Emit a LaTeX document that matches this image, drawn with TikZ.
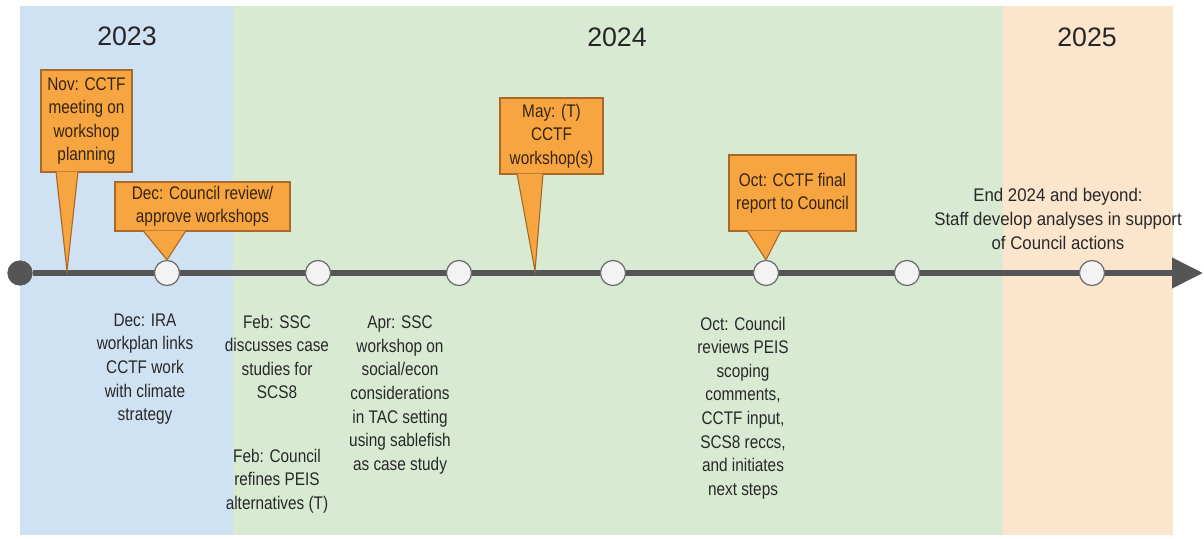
\documentclass[tikz,border=0pt]{standalone}
\usepackage{fontspec}
\setmainfont{Liberation Sans}
\newfontfamily\narrowsans[FakeStretch=0.84]{Liberation Sans}
\newfontfamily\widesans[FakeStretch=0.92]{Liberation Sans}
\usetikzlibrary{arrows.meta,calc}

\definecolor{yrblue}{HTML}{CFE2F3}
\definecolor{yrgreen}{HTML}{D9EAD3}
\definecolor{yrpeach}{HTML}{FCE5CD}
\definecolor{callfill}{HTML}{F7A541}
\definecolor{calledge}{HTML}{A8692A}
\definecolor{calltext}{HTML}{35240F}
\definecolor{notetext}{HTML}{282828}
\definecolor{linegray}{HTML}{555555}
\definecolor{dotfill}{HTML}{F3F3F3}
\definecolor{dotedge}{HTML}{6F6F6F}

\tikzset{
  year/.style={font=\fontsize{19}{22}\selectfont, text=black!85},
  note/.style={align=center, inner sep=0pt, text=notetext, font=\narrowsans\fontsize{13}{16.8}\selectfont},
  callbox/.style={draw=calledge, fill=callfill, line width=0.8pt, inner sep=0pt, align=center, text=calltext, font=\narrowsans\fontsize{13}{16.6}\selectfont},
  pointer/.style={draw=calledge, fill=callfill, line width=0.8pt},
  event/.style={draw=dotedge, fill=dotfill, circle, line width=0.9pt, minimum size=17.8pt, inner sep=0pt},
  startdot/.style={draw=linegray, fill=linegray, circle, minimum size=17.5pt, inner sep=0pt},
  timeline/.style={draw=linegray, line width=3.8pt, -{Triangle[length=22pt,width=21pt]}}
}

\begin{document}
\begin{tikzpicture}[x=0.025cm, y=-0.025cm]
    \useasboundingbox (0, 0) rectangle (1204, 539);

    % year bands
    \fill [yrblue] (20, 6) rectangle (233, 535);
    \fill [yrgreen] (233, 6) rectangle (1003, 535);
    \fill [yrpeach] (1003, 6) rectangle (1173, 535);
    \node [year] (y23) at (127, 36) {2023};
    \node [year] (y24) at (617, 37) {2024};
    \node [year] (y25) at (1087, 37) {2025};

    % timeline
    \node [startdot] (start) at (20, 273) {};
    \coordinate (end) at (1203, 273);
    \draw [timeline] (start) -- (end);
    \node [event] (e1) at (167, 273) {};
    \node [event] (e2) at (318, 273) {};
    \node [event] (e3) at (459, 273) {};
    \node [event] (e4) at (613, 273) {};
    \node [event] (e5) at (766, 273) {};
    \node [event] (e6) at (907, 273) {};
    \node [event] (e7) at (1092, 273) {};
    \coordinate (novtip) at (67, 271);
    \coordinate (maytip) at (535, 271);

    % callouts
    \node [callbox, minimum width=2.275cm, minimum height=2.55cm] (nov) at (86.5, 121)
        {Nov: CCTF\\meeting on\\workshop\\planning};
    \filldraw [pointer] ($(56,0 |- nov.south)+(0,-1)$) -- (novtip) -- ($(78,0 |- nov.south)+(0,-1)$);
    \node [callbox, minimum width=4.375cm, minimum height=1.225cm] (dec) at (202.5, 206.5)
        {Dec: Council review/\\approve workshops};
    \filldraw [pointer] ($(143,0 |- dec.south)+(0,-1)$) -- (e1.north) -- ($(186,0 |- dec.south)+(0,-1)$);
    \node [callbox, minimum width=2.575cm, minimum height=1.9cm] (may) at (551.5, 136)
        {May: (T)\\CCTF\\workshop(s)};
    \filldraw [pointer] ($(517,0 |- may.south)+(0,-1)$) -- (maytip) -- ($(543,0 |- may.south)+(0,-1)$);
    \node [callbox, minimum width=3.175cm, minimum height=1.9cm] (oct) at (792.5, 193)
        {Oct: CCTF final\\report to Council};
    \filldraw [pointer] ($(747,0 |- oct.south)+(0,-1)$) -- (e5.north) -- ($(781,0 |- oct.south)+(0,-1)$);

    % notes below and above the line
    \node [note] (decira) at (145, 369) {Dec: IRA\\workplan links\\CCTF work\\with climate\\strategy};
    \node [note] (febssc) at (277, 357) {Feb: SSC\\discusses case\\studies for\\SCS8};
    \node [note] (febcouncil) at (277, 481) {Feb: Council\\refines PEIS\\alternatives (T)};
    \node [note] (aprssc) at (400, 395) {Apr: SSC\\workshop on\\social/econ\\considerations\\in TAC setting\\using sablefish\\as case study};
    \node [note] (octcouncil) at (743, 408) {Oct: Council\\reviews PEIS\\scoping\\comments,\\CCTF input,\\SCS8 reccs,\\and initiates\\next steps};
    \node [note, font=\widesans\fontsize{13}{16.8}\selectfont] (beyond) at (1058, 219) {End 2024 and beyond:\\Staff develop analyses in support\\of Council actions};
\end{tikzpicture}
\end{document}
